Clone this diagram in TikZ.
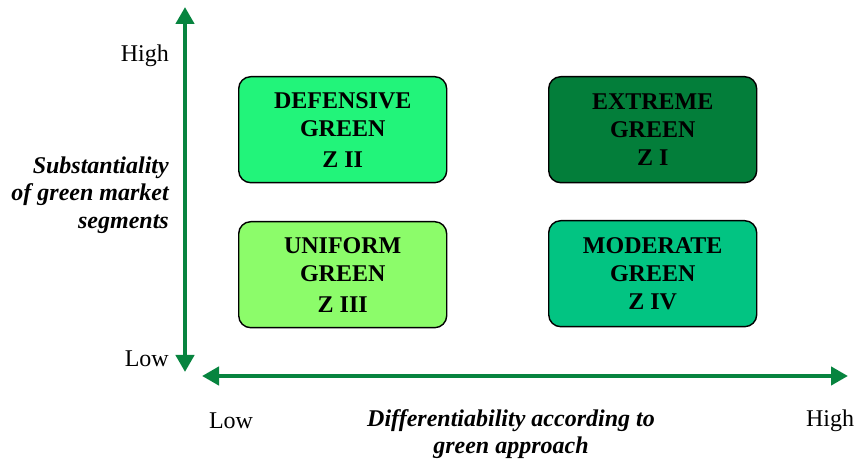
\documentclass[tikz,border=0pt]{standalone}
\usepackage{fontspec}
\setmainfont{Liberation Serif}
\usetikzlibrary{arrows.meta}
\definecolor{axisgreen}{HTML}{07843F}
\definecolor{zone1}{HTML}{037E3A}
\definecolor{zone2}{HTML}{22F47A}
\definecolor{zone3}{HTML}{8CFC6A}
\definecolor{zone4}{HTML}{02C482}
\tikzset{
  zone/.style={draw=black, line width=1.4pt, rounded corners=12pt,
    minimum width=208pt, minimum height=106pt, anchor=north west,
    align=center, font=\fontsize{24}{28}\selectfont\bfseries, text=black,
    inner sep=0pt},
  axis/.style={draw=axisgreen, line width=4.5pt,
    {Triangle[length=17pt,width=18pt]}-{Triangle[length=17pt,width=18pt]}},
  lbl/.style={font=\fontsize{24}{27}\selectfont, inner sep=0pt},
  ttl/.style={font=\fontsize{24}{27.5}\selectfont\bfseries\itshape, inner sep=0pt}
}
\begin{document}
\begin{tikzpicture}[x=1pt,y=-1pt]
\useasboundingbox (0,0) rectangle (855,462);
% quadrants
\node[zone, fill=zone2] (z2) at (238,76) {DEFENSIVE\\GREEN\\[3pt]Z II};
\node[zone, fill=zone1] (z1) at (548,76) {EXTREME\\GREEN\\Z I};
\node[zone, fill=zone3] (z3) at (238,221) {UNIFORM\\GREEN\\[3pt]Z III};
\node[zone, fill=zone4] (z4) at (548,220) {MODERATE\\GREEN\\Z IV};
% axes
\coordinate (ytop) at (185,7);
\coordinate (ybot) at (185,372);
\coordinate (xl) at (202,376);
\coordinate (xr) at (848,376);
\draw[axis] (ybot) -- (ytop);
\draw[axis] (xl) -- (xr);
% axis labels
\node[lbl, anchor=east] (yh) at (169,56) {High};
\node[lbl, anchor=east] (yl) at (169,359) {Low};
\node[ttl, anchor=east, align=right] (yt) at (169,195) {Substantiality\\of green market\\segments};
\node[lbl] (xlo) at (231,421) {Low};
\node[lbl] (xhi) at (830,421) {High};
\node[ttl, align=center] (xt) at (511,434) {Differentiability according to\\green approach};
\end{tikzpicture}
\end{document}
